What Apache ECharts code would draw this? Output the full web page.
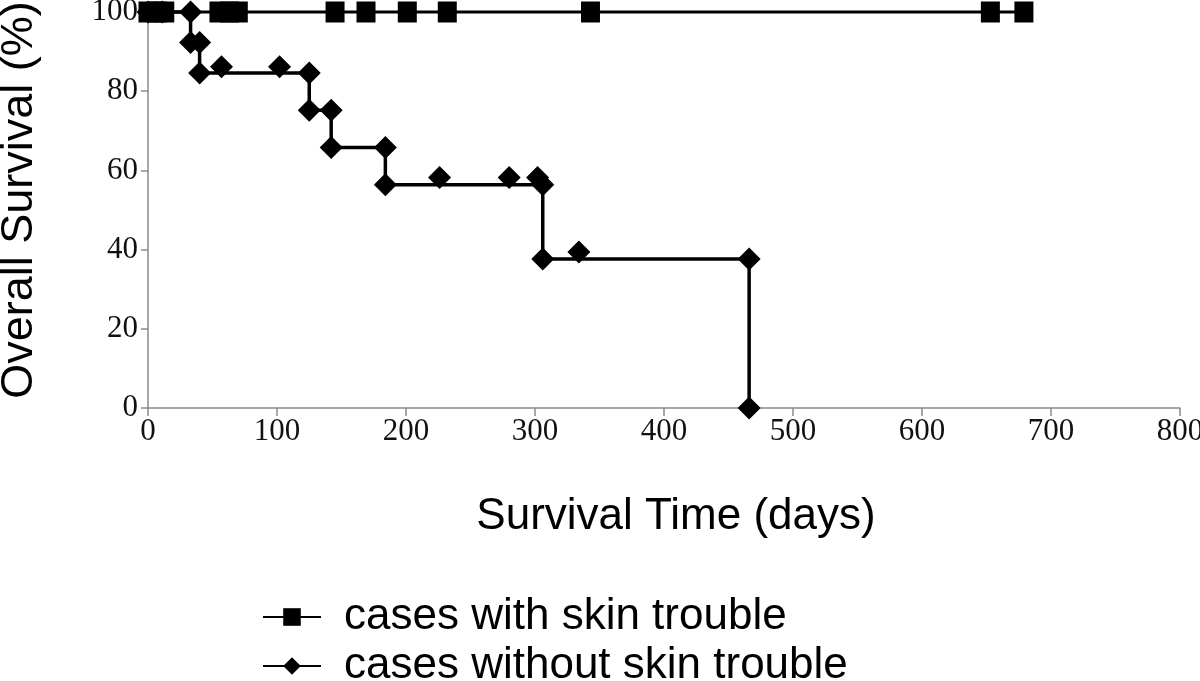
<!DOCTYPE html>
<html>
<head>
<meta charset="utf-8">
<script src="https://cdn.jsdelivr.net/npm/echarts@6/dist/echarts.min.js"></script>
<style>
  html, body { margin: 0; padding: 0; background: #fff; }
  #chart { width: 1200px; height: 681px; }
</style>
</head>
<body>
<div id="chart"></div>
<script>
// cases with skin trouble: every case censored, survival stays at 100%
var skinDays = [0, 7, 13, 55, 63, 70, 145, 169, 201, 232, 343, 653, 679];
var skinSurv = [100, 100, 100, 100, 100, 100, 100, 100, 100, 100, 100, 100, 100];

// cases without skin trouble: Kaplan-Meier step points
var noSkinDays = [0, 11, 33, 33, 40, 40, 125, 125, 142, 142, 184, 184, 306, 306, 466, 466];
var noSkinSurv = [100, 100, 100, 92.3, 92.3, 84.6, 84.6, 75.2, 75.2, 65.8, 65.8, 56.4, 56.4, 37.6, 37.6, 0];

// censored marks of the second group (drawn a little above the step)
var censDays = [57, 102, 226, 280, 302, 334];
var censSurv = [86.2, 86.2, 58.2, 58.2, 58.2, 39.4];

var xTicks = { min: 0, max: 800, interval: 100 };
var yTicks = { min: 0, max: 100, interval: 20 };

var seriesNames = ["cases with skin trouble", "cases without skin trouble"];

function zip(xs, ys)
{
    var out = [];
    for (var i = 0; i < xs.length; i++) {
        out.push([xs[i], ys[i]]);
    }
    return out;
}

var axisGray = "#8a8a8a";
var serif = "'Liberation Serif', 'DejaVu Serif', serif";
var sans = "'Liberation Sans', Arial, sans-serif";

var chart = echarts.init(document.getElementById("chart"), null, { renderer: "canvas" });

chart.setOption({
    animation: false,
    backgroundColor: "#fff",
    grid: { left: 148, right: 20, top: 12, bottom: 273, containLabel: false, outerBoundsMode: "none" },
    legend: {
        orient: "vertical",
        left: 257,
        top: 590,
        height: 140,
        itemWidth: 58,
        itemHeight: 22,
        itemGap: 5,
        data: seriesNames,
        textStyle: { fontFamily: sans, fontSize: 44, color: "#000", padding: [0, 0, 0, 18] }
    },
    xAxis: {
        type: "value",
        min: xTicks.min,
        max: xTicks.max,
        interval: xTicks.interval,
        name: "Survival Time (days)",
        nameLocation: "middle",
        nameGap: 87,
        nameTextStyle: { fontFamily: sans, fontSize: 44, color: "#000", padding: [0, 0, 0, 24] },
        axisLine: { show: true, lineStyle: { color: axisGray, width: 1.5 } },
        axisTick: { show: true, inside: false, length: 8, lineStyle: { color: axisGray, width: 1.5 } },
        axisLabel: { fontFamily: serif, fontSize: 31, color: "#111", margin: 8 },
        splitLine: { show: false }
    },
    yAxis: {
        type: "value",
        min: yTicks.min,
        max: yTicks.max,
        interval: yTicks.interval,
        name: "Overall Survival (%)",
        nameLocation: "middle",
        nameRotate: 90,
        nameGap: 106,
        nameTextStyle: { fontFamily: sans, fontSize: 45, color: "#000", padding: [0, 0, 0, 20] },
        axisLine: { show: true, lineStyle: { color: axisGray, width: 1.5 } },
        axisTick: { show: true, inside: false, length: 7, lineStyle: { color: axisGray, width: 1.5 } },
        axisLabel: { fontFamily: serif, fontSize: 31, color: "#111", margin: 10 },
        splitLine: { show: false }
    },
    series: [
        {
            name: seriesNames[0],
            type: "line",
            data: zip(skinDays, skinSurv),
            symbol: "rect",
            symbolSize: [19, 21],
            showAllSymbol: true,
            clip: false,
            lineStyle: { color: "#000", width: 3 },
            itemStyle: { color: "#000" },
            z: 2
        },
        {
            name: seriesNames[1],
            type: "line",
            data: zip(noSkinDays, noSkinSurv),
            symbol: "diamond",
            symbolSize: 23,
            showAllSymbol: true,
            clip: false,
            lineStyle: { color: "#000", width: 3.5 },
            itemStyle: { color: "#000" },
            z: 3
        },
        {
            name: "censored",
            type: "scatter",
            data: zip(censDays, censSurv),
            symbol: "diamond",
            symbolSize: 23,
            clip: false,
            itemStyle: { color: "#000", opacity: 1 },
            z: 3
        }
    ]
});
</script>
</body>
</html>
